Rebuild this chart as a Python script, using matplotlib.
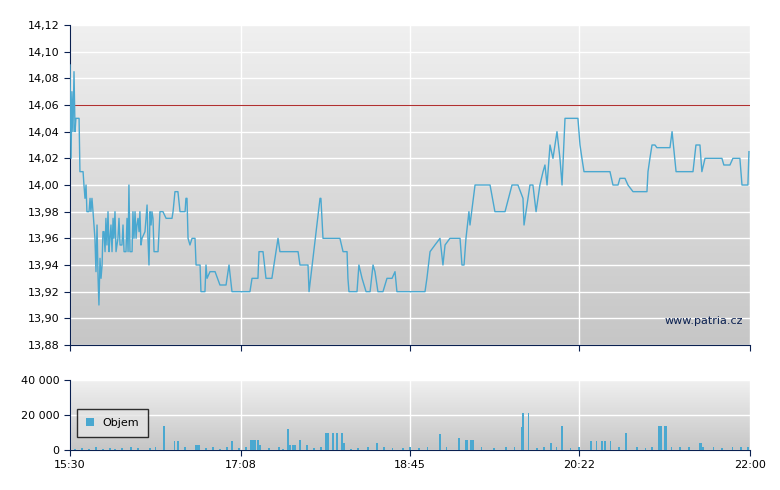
import numpy as np
import matplotlib.pyplot as plt
from matplotlib.ticker import FuncFormatter

# minutes since 15:30 and price
t_price = [0, 0.6, 1.1, 1.7, 2.3, 2.9, 3.4, 5.2, 5.7, 7.5, 8.0, 8.6, 9.2, 9.7, 10.9, 11.5, 12.0,
           12.6, 13.2, 14.3, 14.9, 15.5, 16.1, 16.6, 17.2, 17.8, 18.4, 18.9, 19.5, 20.1, 20.6,
           21.2, 21.8, 22.4, 22.9, 23.5, 24.1, 24.7, 25.2, 25.8, 26.4, 27.5, 28.1, 28.7, 29.8,
           30.4, 31.0, 32.1, 32.7, 33.3, 33.8, 34.4, 35.6, 36.1, 36.7, 37.3, 37.9, 38.4, 39.0,
           39.6, 40.1, 40.7, 41.3, 43.0, 44.2, 44.7, 45.3, 45.9, 46.5, 47.0, 47.6, 48.2, 50.5,
           51.6, 53.3, 55.1, 58.5, 59.1, 60.2, 61.9, 63.1, 66.0, 66.5, 67.1, 67.7, 68.8, 70.0,
           71.7, 72.3, 74.6, 75.1, 77.4, 78.0, 78.6, 80.3, 83.2, 86.0, 89.5, 91.2, 92.9, 103.2,
           104.4, 107.8, 108.4, 110.7, 112.4, 115.8, 119.3, 120.4, 130.8, 131.9, 136.5, 137.1,
           143.4, 143.9, 145.1, 154.8, 156.6, 158.9, 159.4, 160.0, 164.6, 165.7, 167.5, 169.8,
           172.1, 173.8, 174.9, 176.6, 179.5, 181.8, 184.7, 186.4, 187.5, 203.6, 204.7, 206.5,
           209.3, 212.2, 213.9, 215.1, 217.9, 219.1, 223.7, 224.8, 226.0, 227.1, 228.8, 229.4,
           232.3, 240.9, 243.7, 249.5, 253.5, 256.9, 259.8, 260.4, 263.8, 265.5, 267.3, 269.5,
           271.3, 272.4, 273.6, 274.7, 275.3, 277.0, 279.3, 281.0, 282.2, 283.9, 291.3, 292.5,
           293.6, 294.8, 309.7, 311.4, 314.3, 315.4, 318.3, 320.0, 322.9, 330.9, 331.5, 332.6,
           333.8, 335.5, 336.6, 344.1, 345.3, 347.6, 357.3, 359.0, 361.3, 362.4, 364.2, 367.0,
           373.9, 375.0, 378.5, 380.2, 384.2, 385.4, 388.8, 389.4]
price = [14.09, 14.02, 14.07, 14.04, 14.085, 14.04, 14.05, 14.05, 14.01, 14.01, 14.00, 13.99, 14.00,
         13.98, 13.98, 13.99, 13.98, 13.99, 13.98, 13.96, 13.935, 13.97, 13.93, 13.91, 13.945,
         13.93, 13.94, 13.965, 13.965, 13.95, 13.975, 13.955, 13.98, 13.95, 13.96, 13.97, 13.95,
         13.975, 13.96, 13.98, 13.95, 13.96, 13.975, 13.955, 13.955, 13.97, 13.95, 13.95, 13.975,
         13.95, 14.00, 13.95, 13.95, 13.98, 13.96, 13.98, 13.96, 13.97, 13.975, 13.965, 13.98,
         13.955, 13.96, 13.965, 13.985, 13.96, 13.94, 13.98, 13.97, 13.98, 13.975, 13.95, 13.95,
         13.98, 13.98, 13.975, 13.975, 13.98, 13.995, 13.995, 13.98, 13.98, 13.99, 13.99, 13.96,
         13.955, 13.96, 13.96, 13.94, 13.94, 13.92, 13.92, 13.94, 13.93, 13.935, 13.935, 13.925,
         13.925, 13.94, 13.92, 13.92, 13.93, 13.93, 13.95, 13.95, 13.93, 13.93, 13.96, 13.95,
         13.95, 13.94, 13.94, 13.92, 13.99, 13.99, 13.96, 13.96, 13.95, 13.95, 13.93, 13.92,
         13.92, 13.94, 13.93, 13.92, 13.92, 13.94, 13.935, 13.92, 13.92, 13.93, 13.93, 13.935,
         13.92, 13.92, 13.93, 13.95, 13.955, 13.96, 13.94, 13.955, 13.96, 13.96, 13.96, 13.94,
         13.94, 13.96, 13.98, 13.97, 14.00, 14.00, 13.98, 13.98, 14.00, 14.00, 13.99, 13.97,
         14.00, 14.00, 13.98, 14.00, 14.01, 14.015, 14.00, 14.02, 14.03, 14.02, 14.04, 14.02,
         14.00, 14.05, 14.05, 14.03, 14.02, 14.01, 14.01, 14.00, 14.00, 14.005, 14.005, 14.00,
         13.995, 13.995, 14.01, 14.02, 14.03, 14.03, 14.028, 14.028, 14.04, 14.01, 14.01, 14.03,
         14.03, 14.01, 14.02, 14.02, 14.02, 14.015, 14.015, 14.02, 14.02, 14.00, 14.00, 14.025]
ref_price = 14.06

t_vol = [3, 7, 11, 15, 19, 23, 26, 30, 35, 39, 46, 49, 54, 60, 62, 66, 72, 73, 74, 78, 82, 86, 90,
         93, 97, 101, 104, 105, 106, 108, 109, 114, 120, 122, 125, 126, 128, 129, 132, 136, 140,
         144, 147, 148, 151, 153, 156, 157, 161, 165, 171, 176, 180, 185, 191, 195, 200, 205,
         212, 216, 223, 227, 228, 230, 231, 236, 243, 250, 255, 259, 260, 263, 268, 272, 276,
         279, 282, 287, 292, 299, 302, 305, 307, 310, 315, 319, 325, 330, 334, 338, 339, 341,
         342, 345, 350, 355, 361, 362, 363, 369, 374, 380, 385, 389]
vol = [800, 1000, 700, 1500, 800, 1200, 600, 1000, 1500, 900, 1200, 2000, 13500, 5000, 5000, 1500,
       3000, 3000, 3000, 1200, 1500, 800, 1500, 5000, 1200, 1500, 6000, 6000, 6000, 6000, 3000,
       1000, 1500, 800, 12000, 3000, 3000, 3000, 6000, 3000, 1200, 1500, 10000, 10000, 10000,
       10000, 10000, 4000, 800, 1200, 1500, 4000, 1500, 1000, 1200, 1500, 1000, 1800, 9000,
       1500, 7000, 6000, 6000, 6000, 6000, 1500, 1200, 1500, 2000, 13000, 21000, 21000, 1200,
       1500, 4000, 2000, 13500, 1200, 1500, 5000, 5000, 5000, 5000, 5000, 1500, 10000, 1500,
       1200, 1500, 14000, 14000, 14000, 14000, 2000, 1500, 1500, 4000, 4000, 2000, 1500, 1200,
       1500, 2000, 2000]

xtick_pos = [0, 98, 195, 292, 390]
xtick_labels = ['15:30', '17:08', '18:45', '20:22', '22:00']

navy = '#0a2050'
line_col = '#4aa8d0'


def style(ax, ylo, yhi):
    grad = np.linspace(0, 1, 256).reshape(-1, 1)
    ax.imshow(grad, extent=[0, 390, ylo, yhi], aspect='auto', origin='upper',
              cmap=plt.matplotlib.colors.LinearSegmentedColormap.from_list('g', ['#f0f0f0', '#c6c6c6']),
              zorder=0)
    ax.set_xlim(0, 390)
    ax.set_ylim(ylo, yhi)
    ax.grid(True, color='white', lw=1, zorder=1)
    for s in ['top', 'right']:
        ax.spines[s].set_visible(False)
    for s in ['left', 'bottom']:
        ax.spines[s].set_color(navy)
    ax.tick_params(colors=navy, labelcolor='black', labelsize=8, length=4)
    ax.set_xticks(xtick_pos)


fig = plt.figure(figsize=(7.8, 4.9), dpi=100)
ax = fig.add_axes([70 / 780, 1 - 345 / 490, 680 / 780, 320 / 490])
style(ax, 13.88, 14.12)
ax.set_yticks(np.arange(13.88, 14.121, 0.02))
ax.yaxis.set_major_formatter(FuncFormatter(lambda v, p: f'{v:.2f}'.replace('.', ',')))
ax.set_xticklabels([])
ax.axhline(ref_price, color='#b03030', lw=0.8, zorder=2)
ax.plot(t_price, price, color=line_col, lw=1, zorder=3)
ax.text(0.99, 0.06, 'www.patria.cz', transform=ax.transAxes, ha='right', va='bottom',
        fontsize=8, color=navy, zorder=4)

axv = fig.add_axes([70 / 780, 1 - 450 / 490, 680 / 780, 70 / 490])
style(axv, 0, 40000)
axv.set_yticks([0, 20000, 40000])
axv.yaxis.set_major_formatter(FuncFormatter(lambda v, p: f'{int(v):,}'.replace(',', ' ')))
axv.set_xticklabels(xtick_labels)
axv.bar(t_vol, vol, width=1.0, color=line_col, zorder=3, label='Objem')
leg = axv.legend(loc='upper left', bbox_to_anchor=(0.002, 0.66), fontsize=8, frameon=True,
                 fancybox=False, handlelength=0.7, handleheight=0.7, borderpad=0.8)
leg.get_frame().set_edgecolor('black')
leg.get_frame().set_facecolor('#e4e4e4')

fig.savefig('out.png', dpi=100)
